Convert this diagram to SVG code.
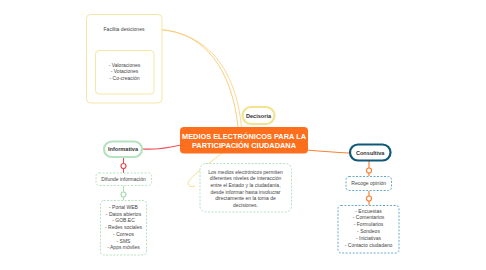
<svg xmlns="http://www.w3.org/2000/svg" width="486" height="270" viewBox="0 0 486 270">
<style>
text{font-family:"Liberation Sans",Arial,sans-serif;fill:#444;text-anchor:middle}
.b{font-weight:bold;fill:#333;font-size:5.6px}
.s{font-size:5px}
.m{font-size:7.4px;font-weight:bold;fill:#fff}
.dg{fill:#fff;stroke:#b7e2c0;stroke-width:1;stroke-dasharray:2 1.5}
.db{fill:#fff;stroke:#6aa9c9;stroke-width:1;stroke-dasharray:2 1.5}
</style>
<rect width="486" height="270" fill="#fff"/>
<g id="connectors" fill="none">
<path d="M159 29.5 C205 32 232 70 238 127" stroke="#f9cf7e" stroke-width="1"/>
<path d="M159 29.5 C208 33 236 70 241.5 127" stroke="#f9cf7e" stroke-width="0.8"/>
<path d="M222 153 C210 163 190 176 188 183 Q188 188 195 186" stroke="#f3e08e" stroke-width="1"/>
<path d="M142 149 Q160 150 181 145" stroke="#ef4f59" stroke-width="1.2"/>
<path d="M307 150 Q330 152 349 153" stroke="#f98236" stroke-width="1.2"/>
<path d="M123.5 157 V173" stroke="#ee4a55" stroke-width="1"/>
<path d="M123.5 186 V200" stroke="#a9dcb4" stroke-width="1"/>
<path d="M124 37 V50" stroke="#f7cb73" stroke-width="1"/>
<path d="M369 161 V176 M369 191 V205" stroke="#f98236" stroke-width="1.2"/>
<circle cx="123.5" cy="166" r="2.5" fill="#fff" stroke="#ee4a55" stroke-width="1.2"/>
<circle cx="123.5" cy="194.5" r="2.5" fill="#fff" stroke="#a9dcb4" stroke-width="1.2"/>
<circle cx="124" cy="44" r="2.5" fill="#fff" stroke="#f7cb73" stroke-width="1.2"/>
<circle cx="369" cy="170.5" r="2.5" fill="#fff" stroke="#f98236" stroke-width="1.2"/>
<circle cx="369" cy="198.5" r="2.5" fill="#fff" stroke="#f98236" stroke-width="1.2"/>
</g>
<g id="main">
<rect x="180" y="127" width="128" height="26.5" rx="4" fill="#fd6f1d"/>
<text class="m" x="244" y="138.5">MEDIOS ELECTRÓNICOS PARA LA</text>
<text class="m" x="244" y="148">PARTICIPACIÓN CIUDADANA</text>
</g>
<g id="decisoria">
<rect x="242.5" y="107" width="32" height="17" rx="8.5" fill="#fff" stroke="#f3e28f" stroke-width="2.2"/>
<text class="b" x="258.5" y="117.5">Decisoria</text>
</g>
<g id="facilita">
<rect x="86.5" y="14.5" width="75.5" height="88.5" rx="4" fill="#fff" stroke="#f4e7a6" stroke-width="1"/>
<text class="s" x="124" y="31">Facilita desiciones</text>
</g>
<g id="decisoria-list">
<rect x="95.5" y="50.5" width="58.5" height="43.5" rx="3.5" fill="#fff" stroke="#f4e7a6" stroke-width="1"/>
<text class="s" x="124.5" y="66.5">- Valoraciones</text>
<text class="s" x="124.5" y="73">- Votaciones</text>
<text class="s" x="124.5" y="80">- Co-creación</text>
</g>
<g id="nota">
<rect x="200" y="163.5" width="91.5" height="48.5" rx="6" fill="#fff" stroke="#b7e2c0" stroke-width="1" stroke-dasharray="2 1.5"/>
<text class="s" x="245.5" y="173.5">Los medios electrónicos permiten</text>
<text class="s" x="245.5" y="180">diferentes niveles de interacción</text>
<text class="s" x="245.5" y="186.5">entre el Estado y la ciudadanía,</text>
<text class="s" x="245.5" y="193.5">desde informar hasta involucrar</text>
<text class="s" x="245.5" y="200">directamente en la toma de</text>
<text class="s" x="245.5" y="206.5">decisiones.</text>
</g>
<g id="informativa">
<rect x="104" y="141.5" width="38" height="15.5" rx="7.75" fill="#fff" stroke="#b7e2c0" stroke-width="2.2"/>
<text class="b" x="123" y="151">Informativa</text>
</g>
<g id="difunde">
<rect class="dg" x="96" y="173" width="55.5" height="12.5" rx="3"/>
<text class="s" x="123.5" y="181">Difunde información</text>
</g>
<g id="informativa-list">
<rect class="dg" x="100.5" y="200.5" width="46" height="54.5" rx="3"/>
<text class="s" x="123.5" y="209">- Portal WEB</text>
<text class="s" x="123.5" y="215.7">- Datos abiertos</text>
<text class="s" x="123.5" y="222.4">- GOB.EC</text>
<text class="s" x="123.5" y="229.1">- Redes sociales</text>
<text class="s" x="123.5" y="235.8">- Correos</text>
<text class="s" x="123.5" y="242.5">- SMS</text>
<text class="s" x="123.5" y="249.2">- Apps móviles</text>
</g>
<g id="consultiva">
<rect x="350" y="144.5" width="40.5" height="16" rx="8" fill="#fff" stroke="#0f5878" stroke-width="2.2"/>
<text class="b" x="370.2" y="154.5">Consultiva</text>
</g>
<g id="recoge">
<rect class="db" x="346" y="176.5" width="45.5" height="14" rx="3"/>
<text class="s" x="368.7" y="185.3">Recoge opinión</text>
</g>
<g id="consultiva-list">
<rect class="db" x="338" y="205.5" width="61" height="47.5" rx="3"/>
<text class="s" x="368.5" y="212.5">- Encuestas</text>
<text class="s" x="368.5" y="219.3">- Comentarios</text>
<text class="s" x="368.5" y="226.1">- Formularios</text>
<text class="s" x="368.5" y="232.9">- Sondeos</text>
<text class="s" x="368.5" y="239.7">- Iniciativas</text>
<text class="s" x="368.5" y="246.5">- Contacto ciudadano</text>
</g>
</svg>
